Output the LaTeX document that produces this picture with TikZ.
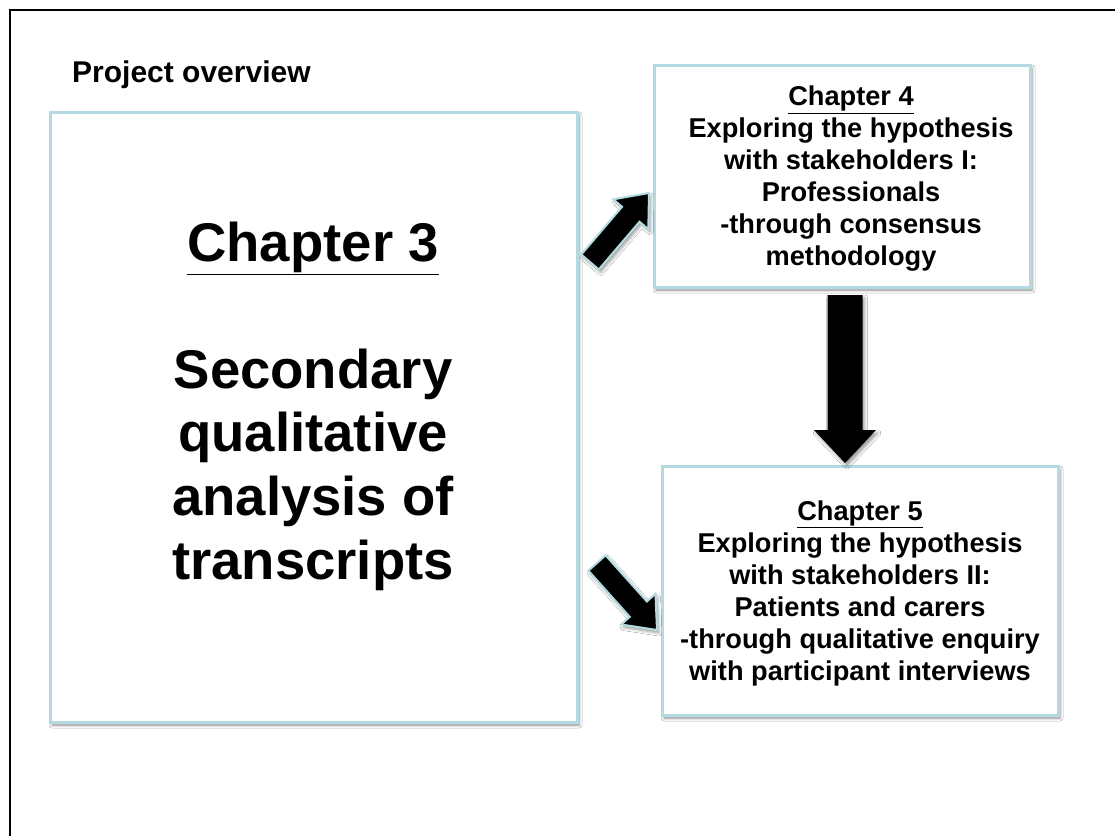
\documentclass[tikz,border=0pt]{standalone}
\usepackage{fontspec}
\setmainfont{Liberation Sans}
\usetikzlibrary{calc,shadows.blur}
\definecolor{boxline}{RGB}{178,218,224}
\tikzset{
  chapbox/.style={draw=boxline, line width=3pt, fill=white, inner sep=0pt,
    blur shadow={shadow xshift=2pt, shadow yshift=-3pt, shadow blur radius=3pt, shadow opacity=45}},
  boxtext/.style={font=\bfseries\fontsize{27.2}{32}\selectfont, align=center, inner sep=0pt},
  bigtext/.style={font=\bfseries\fontsize{54.5}{63.6}\selectfont, align=center, inner sep=0pt},
  titletext/.style={font=\bfseries\fontsize{30}{36}\selectfont, inner sep=0pt},
  blockarrow/.style={fill=black, draw=boxline, line width=2pt, line join=miter,
    blur shadow={shadow xshift=2pt, shadow yshift=-3pt, shadow blur radius=3pt, shadow opacity=40}},
  plainarrow/.style={fill=black, draw=none,
    blur shadow={shadow xshift=2pt, shadow yshift=-3pt, shadow blur radius=3pt, shadow opacity=40}},
  frameline/.style={draw=black, line width=2pt}
}
\newcommand\blockarr[6]{%
  \coordinate (h-#1) at ($(#2)!#5!(#1)$);
  \path[#6] ($(#1)!#3!90:(#2)$) -- ($(h-#1)!#3!90:(#2)$) -- ($(h-#1)!#4!90:(#2)$)
    -- (#2) -- ($(h-#1)!#4!-90:(#2)$) -- ($(h-#1)!#3!-90:(#2)$) -- ($(#1)!#3!-90:(#2)$) -- cycle;}
\begin{document}
\begin{tikzpicture}[x=1pt,y=-1pt]
\useasboundingbox (0,0) rectangle (1115,836);
\fill[white] (0,0) rectangle (1115,836);
\path[frameline] (1115,10) -- (10,10) -- (10,836);
\node[titletext, anchor=base west] (title) at (72,82) {Project overview};
% boxes
\node[chapbox, minimum width=527pt, minimum height=610pt] (c3) at (313.5,417) {};
\node[chapbox, minimum width=376pt, minimum height=222pt] (c4) at (842,176) {};
\node[chapbox, minimum width=396pt, minimum height=249pt] (c5) at (860,590.5) {};
% texts
\node[bigtext] (t3) at (313,406) {\underline{Chapter 3}\\ \\Secondary\\qualitative\\analysis of\\transcripts};
\node[boxtext] (t4) at ([xshift=9pt,yshift=-3pt]c4.center) {\underline{Chapter 4}\\Exploring the hypothesis\\with stakeholders I:\\Professionals\\-through consensus\\methodology};
\node[boxtext] (t5) at ([yshift=-3pt]c5.center) {\underline{Chapter 5}\\Exploring the hypothesis\\with stakeholders II:\\Patients and carers\\-through qualitative enquiry\\with participant interviews};
% arrows
\coordinate (a1s) at (590,262);
\coordinate (a1e) at (649,193);
\coordinate (a2s) at (597,563);
\coordinate (a2e) at (657,630);
\coordinate (a3s) at (845,295);
\coordinate (a3e) at (845,463);
\blockarr{a1s}{a1e}{11.5pt}{23pt}{28pt}{blockarrow}
\blockarr{a2s}{a2e}{11.5pt}{23pt}{28pt}{blockarrow}
\blockarr{a3s}{a3e}{17.5pt}{31pt}{33pt}{plainarrow}
\end{tikzpicture}
\end{document}
